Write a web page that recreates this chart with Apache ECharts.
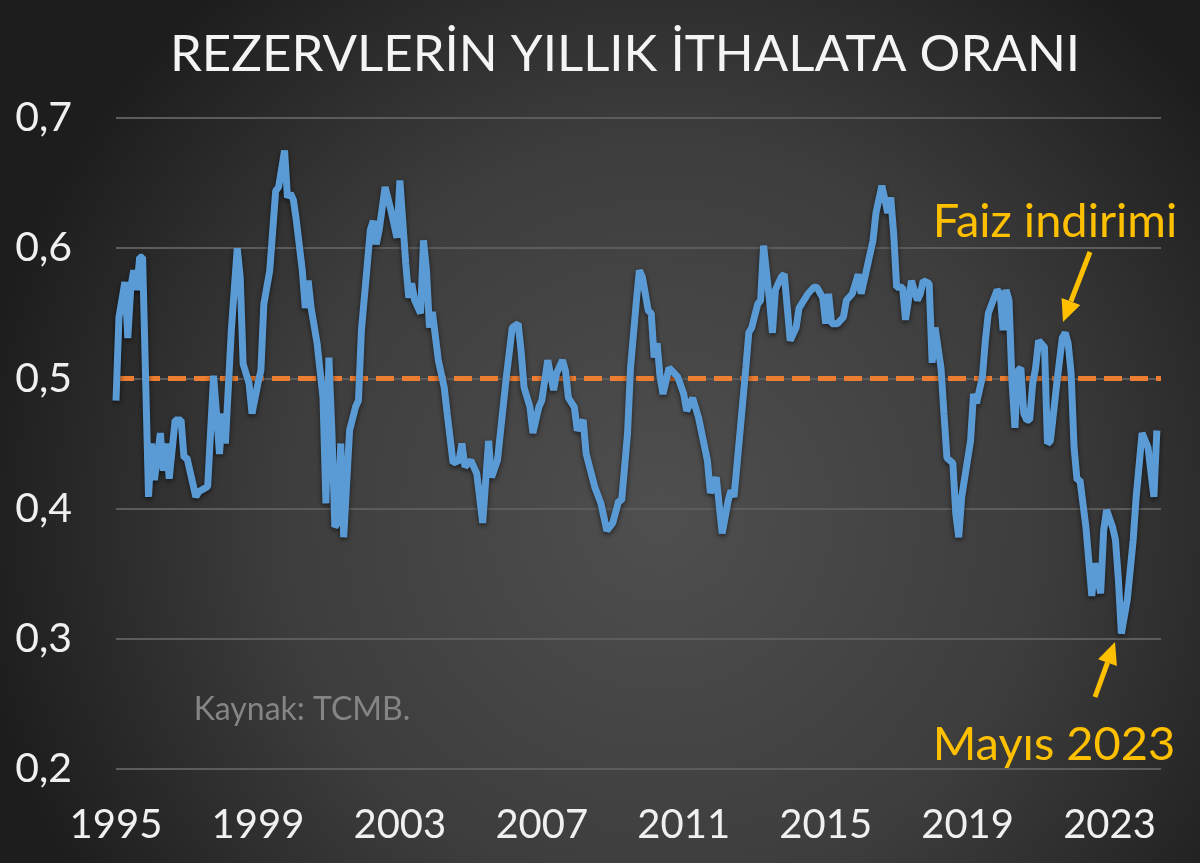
<!DOCTYPE html>
<html>
<head>
<meta charset="utf-8">
<title>Rezervlerin yıllık ithalata oranı</title>
<script src="https://cdn.jsdelivr.net/npm/echarts@6/dist/echarts.min.js"></script>
<style>
  html, body { margin: 0; padding: 0; background: #2b2b2b; }
  #chart { width: 1200px; height: 863px; }
</style>
</head>
<body>
<div id="chart"></div>
<script>
// ay sayısı: Ocak 1995'ten itibaren (0 = 1995-01)
var months = [0,1,3,4,5,6,7,8,9,11,12,13,15,16,17,18,20,22,23,24,27,28,31,33,34,35,36,37,39,41,42,43,45,46,48,49,50,52,54,55,57,58,59,60,61,63,64,65,66,68,70,71,72,73,74,75,76,77,79,81,82,83,85,86,87,88,89,91,93,95,96,98,99,100,101,103,104,105,106,107,109,111,112,114,116,117,118,120,122,124,126,127,129,132,134,136,137,138,140,141,143,144,146,148,149,151,152,153,155,156,158,159,162,164,166,168,170,171,173,174,176,177,178,180,181,182,183,184,185,187,188,190,192,193,195,197,200,201,203,205,207,208,209,211,213,214,215,217,218,219,221,222,223,225,226,228,230,231,234,236,237,239,240,241,242,244,246,247,249,251,252,253,256,257,259,261,262,263,264,266,267,269,271,272,273,275,276,277,279,280,281,283,284,285,286,289,290,291,293,294,295,298,299,300,301,302,303,304,305,306,307,308,309,310,311,312,314,315,316,318,320,321,322,323,324,325,326,328,330,331,333,334,335,337,338,339,340,342,344,345,347,349,351,352];
// rezerv / yıllık ithalat
var ratio = [0.483,0.547,0.574,0.531,0.570,0.583,0.568,0.593,0.593,0.409,0.450,0.422,0.458,0.429,0.450,0.423,0.468,0.468,0.439,0.439,0.409,0.413,0.417,0.502,0.473,0.442,0.473,0.450,0.537,0.600,0.578,0.511,0.496,0.473,0.496,0.506,0.557,0.583,0.644,0.647,0.675,0.639,0.642,0.637,0.621,0.583,0.554,0.575,0.554,0.527,0.485,0.404,0.516,0.460,0.386,0.389,0.450,0.378,0.460,0.478,0.483,0.537,0.588,0.614,0.621,0.603,0.614,0.647,0.629,0.608,0.652,0.588,0.562,0.573,0.560,0.550,0.606,0.583,0.539,0.551,0.514,0.493,0.473,0.435,0.437,0.450,0.432,0.437,0.427,0.389,0.452,0.424,0.437,0.501,0.539,0.542,0.521,0.493,0.478,0.458,0.478,0.483,0.514,0.491,0.504,0.514,0.506,0.485,0.478,0.460,0.468,0.442,0.416,0.404,0.383,0.389,0.406,0.406,0.458,0.508,0.560,0.583,0.578,0.552,0.550,0.516,0.527,0.501,0.488,0.508,0.506,0.501,0.488,0.475,0.485,0.470,0.437,0.412,0.424,0.381,0.406,0.414,0.409,0.458,0.508,0.535,0.539,0.557,0.560,0.602,0.560,0.535,0.568,0.578,0.580,0.529,0.539,0.554,0.565,0.570,0.570,0.562,0.542,0.565,0.542,0.542,0.547,0.560,0.565,0.580,0.565,0.575,0.606,0.627,0.648,0.627,0.639,0.611,0.570,0.570,0.545,0.575,0.560,0.565,0.575,0.573,0.512,0.539,0.508,0.473,0.439,0.435,0.396,0.378,0.409,0.452,0.488,0.481,0.501,0.529,0.550,0.568,0.565,0.537,0.568,0.560,0.498,0.462,0.506,0.508,0.473,0.468,0.468,0.496,0.508,0.529,0.524,0.450,0.452,0.493,0.531,0.535,0.527,0.504,0.447,0.422,0.422,0.386,0.333,0.358,0.335,0.383,0.399,0.386,0.376,0.345,0.304,0.330,0.376,0.409,0.458,0.447,0.409,0.460];
var yearTicks = [1995, 1999, 2003, 2007, 2011, 2015, 2019, 2023];
var yTicks = [0.2, 0.3, 0.4, 0.5, 0.6, 0.7];
var threshold = 0.5;

var FONT = 'Lato, "Open Sans", sans-serif';

var seriesData = [];
for (var i = 0; i < months.length; i++) {
    seriesData.push([1995 + months[i] / 12, ratio[i]]);
}

// ok çizimi (açıklama okları)
var arrow = function(tail, tip, color){
    var dx = tip[0] - tail[0], dy = tip[1] - tail[1];
    var len = Math.sqrt(dx * dx + dy * dy);
    var ux = dx / len, uy = dy / len;
    var hl = 22, hw = 10;
    var bx = tip[0] - ux * hl, by = tip[1] - uy * hl;
    return [
        { type: 'line', z: 100, shape: { x1: tail[0], y1: tail[1], x2: bx, y2: by },
          style: { stroke: color, lineWidth: 5 } },
        { type: 'polygon', z: 100,
          shape: { points: [[tip[0], tip[1]], [bx - uy * hw, by + ux * hw], [bx + uy * hw, by - ux * hw]] },
          style: { fill: color } }
    ];
}

var chart = echarts.init(document.getElementById('chart'));
var option = {
    animation: false,
    backgroundColor: {
        type: 'radial', x: 0.55, y: 0.6, r: 0.8,
        colorStops: [
            { offset: 0, color: '#4f4f4f' },
            { offset: 0.55, color: '#3d3d3d' },
            { offset: 1, color: '#1d1d1d' }
        ]
    },
    title: {
        text: 'REZERVLERİN YILLIK İTHALATA ORANI',
        left: 620, top: 24, textAlign: 'center',
        textStyle: { color: '#f4f4f4', fontFamily: FONT, fontWeight: 'normal', fontSize: 51 }
    },
    grid: { left: 116, right: 39, top: 118, bottom: 94 },
    xAxis: {
        type: 'value', min: 1995, max: 2024.45, interval: 4,
        axisLine: { show: false }, axisTick: { show: false }, splitLine: { show: false },
        axisLabel: {
            color: '#f0f0f0', fontFamily: FONT, fontSize: 40, margin: 36,
            showMaxLabel: false,
            formatter: function(v){ return yearTicks.indexOf(Math.round(v)) >= 0 && Math.abs(v - Math.round(v)) < 1e-6 ? String(Math.round(v)) : ''; }
        }
    },
    yAxis: {
        type: 'value', min: 0.2, max: 0.7, interval: 0.1,
        axisLine: { show: false }, axisTick: { show: false },
        splitLine: { lineStyle: { color: '#5c5c5c', width: 2 } },
        axisLabel: {
            color: '#f0f0f0', fontFamily: FONT, fontSize: 41, margin: 44,
            formatter: function(v){ return v.toFixed(1).replace('.', ','); }
        }
    },
    series: [{
        type: 'line',
        data: seriesData,
        showSymbol: false,
        lineStyle: { color: '#5b9bd5', width: 7, shadowColor: 'rgba(0,0,0,0.6)', shadowBlur: 5, shadowOffsetY: 2 },
        z: 3,
        markLine: {
            silent: true, symbol: 'none', label: { show: false }, z: 2,
            lineStyle: { color: '#ed7d31', width: 5, type: [18, 8] },
            data: [{ yAxis: threshold }]
        }
    }],
    graphic: [
        { type: 'text', z: 100, style: { text: 'Faiz indirimi', x: 1055, y: 222, textAlign: 'center', textVerticalAlign: 'middle',
            fill: '#ffc000', font: '47px ' + FONT } },
        { type: 'text', z: 100, style: { text: 'Mayıs 2023', x: 1054, y: 745, textAlign: 'center', textVerticalAlign: 'middle',
            fill: '#ffc000', font: '47px ' + FONT } },
        { type: 'text', z: 100, style: { text: 'Kaynak: TCMB.', x: 302, y: 710, textAlign: 'center', textVerticalAlign: 'middle',
            fill: '#858585', font: '32px ' + FONT } }
    ].concat(arrow([1090, 252], [1063, 322], '#ffc000'), arrow([1095, 697], [1115, 642], '#ffc000'))
};
chart.setOption(option);
</script>
</body>
</html>
